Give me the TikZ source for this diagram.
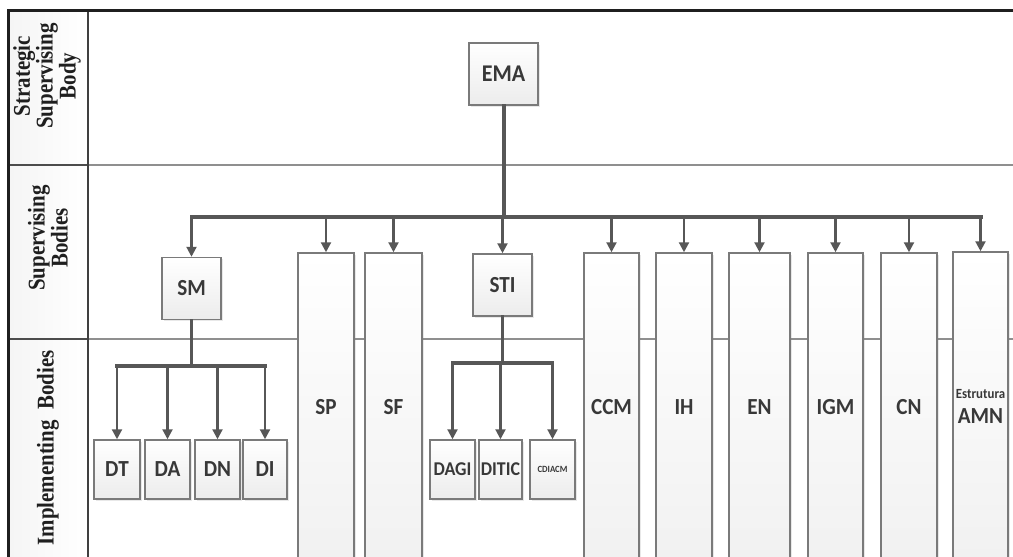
\documentclass[tikz,border=0pt]{standalone}
\usepackage{fontspec}
\usepackage{graphicx}
\setmainfont{Liberation Serif}
\newfontfamily\boxfont{Carlito}
\usetikzlibrary{arrows.meta,shadows}
\definecolor{boxgray}{HTML}{7A7A7A}
\definecolor{txtgray}{HTML}{383838}
\definecolor{arrgray}{HTML}{575757}
\definecolor{rowgray}{HTML}{8F8F8F}
\newcommand\sq[1]{\scalebox{0.92}[1]{#1}}
\newcommand\labsq[1]{\scalebox{0.87}[1]{#1}}
\newcommand\fs[1]{\fontsize{#1}{#1}\selectfont}
\begin{document}
\begin{tikzpicture}[x=1pt,y=-1pt,
  box/.style={draw=boxgray, line width=1.5pt, top color=white, bottom color=gray!15,
    drop shadow={opacity=0.18, shadow xshift=1.5pt, shadow yshift=-1.5pt},
    inner sep=0pt, text=txtgray, font=\boxfont\bfseries\fs{23}},
  tall/.style={box, minimum width=56, minimum height=308, bottom color=gray!11},
  small/.style={box, minimum width=45, minimum height=59},
  mid/.style={box, minimum width=59, minimum height=62},
  arr/.style={draw=arrgray, line width=2.2pt, -{Triangle[length=10pt,width=10pt]}},
  bus/.style={draw=arrgray, line width=4pt, line cap=rect},
  rowline/.style={draw=rowgray, line width=1.3pt},
  lab/.style={rotate=90, align=center, font=\bfseries\fontsize{24}{20}\selectfont, text=black!88, inner sep=0pt}
]
\useasboundingbox (0,0) rectangle (1013,557);
\clip (0,0) rectangle (1013,557);
\fill[white] (0,0) rectangle (1013,557);
% left column background
\shade[left color=gray!8, right color=white] (8,10) rectangle (88,557);
% row lines
\draw[rowline] (88,165) -- (1013,165);
\draw[rowline] (88,339) -- (1013,339);

% top box
\node[box, minimum width=69, minimum height=62, font=\boxfont\bfseries\fs{24}] (ema) at (503.5,74) {\sq{EMA}};

% supervising
\node[mid] (sm) at (191.5,288.5) {\sq{SM}};
\node[mid] (sti) at (502.5,285) {\sq{STI}};
\node[tall] (sp) at (326,407) {\sq{SP}};
\node[tall, minimum width=57] (sf) at (393.5,407) {\sq{SF}};
\node[tall, minimum width=55] (ccm) at (611.5,407) {\sq{CCM}};
\node[tall] (ih) at (684,407) {\sq{IH}};
\node[tall, minimum width=61] (en) at (759.5,407) {\sq{EN}};
\node[tall, minimum width=55] (igm) at (835.5,407) {\sq{IGM}};
\node[tall] (cn) at (909,407) {\sq{CN}};
\node[tall, minimum width=55, align=center] (amn) at (980.5,406)
  {\sq{\fs{14}Estrutura}\\[2pt]\sq{AMN}};

% implementing small boxes
\node[small, minimum width=46] (dt) at (117,469.5) {\sq{DT}};
\node[small] (da) at (167.5,469.5) {\sq{DA}};
\node[small] (dn) at (217.5,469.5) {\sq{DN}};
\node[small, minimum width=44] (di) at (265,469.5) {\sq{DI}};
\node[small, font=\boxfont\bfseries\fs{19.5}] (dagi) at (452.5,469.5) {\sq{DAGI}};
\node[small, minimum width=43, font=\boxfont\bfseries\fs{19.5}] (ditic) at (500.5,469.5) {\sq{DITIC}};
\node[small, font=\boxfont\bfseries\fs{9.5}] (cdiacm) at (552.5,469.5) {\sq{CDIACM}};

% main bus
\coordinate (bus) at (503,217);
\draw[bus] (ema.south) -- (ema.south |- bus);
\draw[bus] (sm.north |- bus) -- (amn.north |- bus);
\foreach \n in {sm,sp,sf,sti,ccm,ih,en,igm,cn,amn}
  \draw[arr] (\n.north |- bus) -- (\n.north);

% SM sub-tree
\coordinate (smbus) at (191.5,366);
\draw[bus, line width=3.5pt] (sm.south) -- (smbus);
\draw[bus, line width=3.5pt] (dt.north |- smbus) -- (di.north |- smbus);
\foreach \n in {dt,da,dn,di}
  \draw[arr] (\n.north |- smbus) -- (\n.north);

% STI sub-tree
\coordinate (stibus) at (502.5,363);
\draw[bus, line width=3.5pt] (sti.south) -- (stibus);
\draw[bus, line width=3.5pt] (dagi.north |- stibus) -- (cdiacm.north |- stibus);
\foreach \n in {dagi,ditic,cdiacm}
  \draw[arr] (\n.north |- stibus) -- (\n.north);

% left column
\draw[draw=black!70, line width=1.3pt] (8,165) -- (88,165) (8,339) -- (88,339);
\draw[draw=black!75, line width=2pt] (88,10) -- (88,557);
\draw[draw=black!88, line width=3pt] (8,557) -- (8,10) -- (1013,10);

\node[lab] (l1) at (47,76) {\labsq{Strategic}\\\labsq{Supervising}\\\labsq{Body}};
\node[lab] (l2) at (48,238) {\labsq{Supervising}\\\labsq{Bodies}};
\node[lab] (l3) at (48,448) {\labsq{Implementing\hspace{0.25em} Bodies}};
\end{tikzpicture}
\end{document}
